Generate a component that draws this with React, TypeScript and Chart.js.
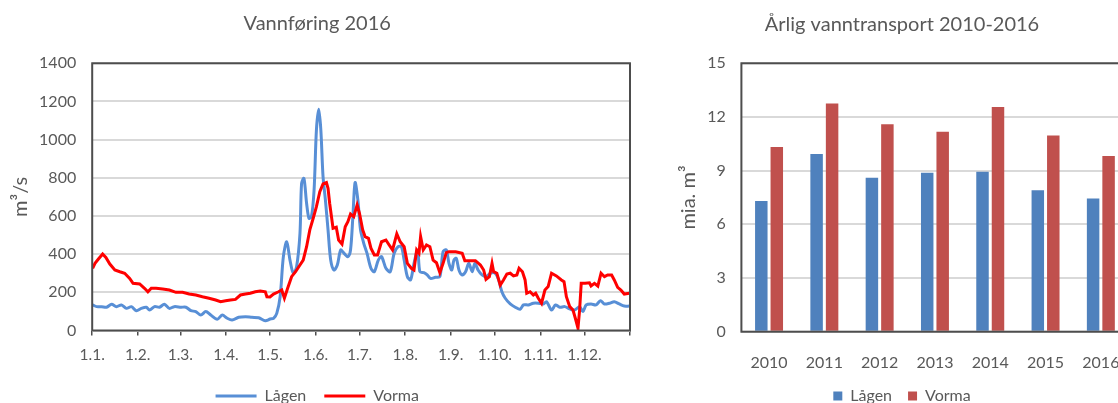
import React, { useEffect, useRef } from "react";
import { Chart, registerables } from "chart.js";

Chart.register(...registerables);

// ---------- Data: Vannføring 2016 (day of year -> m³/s) ----------
const monthStartDays = [0, 31, 60, 91, 121, 152, 182, 213, 244, 274, 305, 335, 366];
const monthLabels = ["1.1.", "1.2.", "1.3.", "1.4.", "1.5.", "1.6.", "1.7.", "1.8.", "1.9.", "1.10.", "1.11.", "1.12.", ""];

const lagenDays = [
  0.3, 3, 6.4, 9.8, 13.2, 16.5, 19.9, 23.3, 26.7, 30, 33.4, 36.8, 39, 42.4, 45.8, 49.1, 52.5, 55.9, 60.4, 63.8,
  67.2, 70.5, 73.9, 77.3, 80.7, 85.1, 88.5, 91.9, 95.2, 99.7, 104.3, 108.7, 113.3, 117.8, 121.1, 123.4, 125.6, 127.9, 130.1, 132.4,
  134.6, 136.9, 139.1, 141.4, 142.5, 144.1, 145.9, 147.5, 149.2, 151, 152.6, 154.2, 155.6, 157.1, 158.7, 160.5, 162.3, 164.5, 166.8, 169.1,
  171.3, 174, 175.8, 177.4, 178.9, 180.8, 182.6, 184.8, 187, 189.7, 192, 194.7, 196.9, 199.9, 202.8, 205.5, 208.2, 210.4, 212.3, 214.5,
  216.7, 219, 221.5, 223, 225.7, 228, 230.2, 233.6, 236.6, 238.8, 241, 242.8, 244.7, 246.2, 247.8, 249.6, 251.8, 254.1, 256.3, 258.6,
  260.4, 262.6, 265.3, 268, 271, 274.3, 276.6, 278.8, 281.1, 284.5, 287.9, 291.2, 293.5, 296.8, 300.2, 303.6, 307, 309.2, 312.6, 315.3,
  318.2, 321.6, 325, 328.3, 331.7, 333.9, 336.2, 339.5, 342.9, 345.9, 348.6, 352, 355.3, 358.7, 362.1, 365.5,
];
const lagenFlow = [
  134, 125, 125, 122, 137, 125, 134, 116, 125, 104, 116, 122, 107, 125, 122, 137, 116, 125, 122, 122,
  104, 99, 81, 99, 81, 59, 81, 64, 55, 69, 72, 69, 67, 51, 60, 64, 90, 177, 387, 465,
  369, 300, 334, 509, 771, 797, 667, 588, 596, 736, 1051, 1159, 1051, 806, 684, 527, 369, 317, 343, 422,
  405, 387, 422, 596, 775, 684, 527, 457, 405, 326, 308, 369, 387, 326, 308, 405, 439, 439, 369, 282,
  265, 352, 420, 308, 303, 291, 273, 279, 282, 413, 422, 352, 317, 369, 378, 317, 291, 308, 352, 308,
  352, 317, 291, 282, 300, 300, 265, 203, 169, 139, 122, 111, 134, 134, 143, 143, 139, 151, 107, 134,
  122, 125, 113, 107, 125, 99, 134, 139, 134, 156, 139, 143, 151, 139, 128, 128,
];

const vormaDays = [
  0.3, 1.9, 4.1, 7.1, 9.3, 12, 15.4, 18.8, 22.1, 25.5, 27.8, 32.3, 35.6, 37.9, 40.2, 43.5, 48, 52.5, 57, 61.5,
  66, 70.5, 75, 79.5, 84, 87.4, 90.8, 94.1, 97.5, 100.9, 104.3, 107.6, 111, 114.4, 117.8, 118.9, 121, 123.4, 126.8, 129,
  130.8, 133, 135.7, 138.4, 141.4, 143.6, 145.9, 148.1, 150.4, 152.6, 154.9, 157.1, 159.4, 160.5, 161.6, 163.9, 166.1, 167.7, 170, 172.2,
  174, 175.8, 178, 180.3, 181.9, 184.1, 185.7, 188, 189.7, 192, 194.2, 196.9, 199.9, 202.1, 204.4, 207.3, 209.6, 212.3, 214.5, 217.2,
  219, 220.8, 222.4, 223.5, 225.3, 227.5, 229.8, 232, 234.3, 236.6, 238.8, 241, 242.8, 247.4, 251.8, 253.6, 256.3, 260.8, 264.2, 266.4,
  268, 270.3, 272.1, 273.2, 275.4, 277.7, 279.9, 282.2, 284.5, 286.7, 289, 290.5, 292.8, 294.6, 295.7, 298, 300.2, 301.8, 303.6, 305.8,
  308.1, 310.3, 312.6, 315.9, 319.3, 321.1, 322.7, 325, 327.2, 328.8, 330.6, 331.7, 332.8, 335.5, 338.4, 339.5, 341.8, 344.1, 346.3, 348.6,
  350.8, 353.5, 355.3, 357.6, 359.8, 362.1, 365.5,
];
const vormaFlow = [
  326, 352, 373, 401, 383, 348, 317, 308, 300, 273, 247, 244, 221, 203, 221, 221, 217, 212, 200, 200,
  191, 186, 177, 169, 160, 151, 156, 160, 163, 186, 191, 195, 203, 207, 203, 177, 176, 191, 203, 212,
  169, 221, 282, 308, 343, 369, 439, 527, 588, 649, 727, 768, 775, 745, 667, 536, 541, 474, 453, 544,
  570, 610, 596, 658, 614, 527, 492, 483, 431, 396, 396, 465, 474, 448, 422, 506, 465, 439, 352, 326,
  317, 422, 405, 492, 422, 448, 439, 369, 355, 303, 352, 408, 413, 413, 405, 366, 366, 366, 343, 317,
  268, 282, 352, 308, 300, 238, 265, 296, 300, 286, 291, 326, 308, 265, 195, 203, 186, 195, 169, 143,
  212, 230, 300, 286, 265, 256, 177, 125, 107, 64, 12, 107, 247, 247, 250, 233, 247, 233, 300, 282,
  291, 291, 265, 226, 212, 191, 195,
];

// ---------- Data: Årlig vanntransport 2010-2016 (mia. m³) ----------
const years = ["2010", "2011", "2012", "2013", "2014", "2015", "2016"];
const lagenYearly = [7.3, 9.93, 8.61, 8.89, 8.94, 7.9, 7.45];
const vormaYearly = [10.32, 12.76, 11.59, 11.18, 12.56, 10.97, 9.82];

const FONT = "Lato, 'Open Sans', 'DejaVu Sans', sans-serif";
const TEXT = "#595959";
const GRID = "#d9d9d9";
const FRAME = "#4d4d4d";

Chart.defaults.font.family = FONT;
Chart.defaults.color = TEXT;

const plotBox = {
  id: "plotBox",
  afterDatasetsDraw(chart: any) {
    const { ctx, chartArea } = chart;
    ctx.save();
    ctx.strokeStyle = FRAME;
    ctx.lineWidth = 2;
    ctx.strokeRect(chartArea.left, chartArea.top, chartArea.right - chartArea.left, chartArea.bottom - chartArea.top);
    ctx.restore();
  },
};

function FlowChart() {
  const ref = useRef<HTMLCanvasElement | null>(null);
  useEffect(() => {
    if (!ref.current) return;
    const chart = new Chart(ref.current, {
      type: "line",
      data: {
        datasets: [
          {
            label: "Lågen",
            data: lagenDays.map((d, i) => ({ x: d, y: lagenFlow[i] })),
            borderColor: "#588fd6",
            backgroundColor: "#588fd6",
            borderWidth: 3,
            pointRadius: 0,
            tension: 0.3,
            order: 1,
          },
          {
            label: "Vorma",
            data: vormaDays.map((d, i) => ({ x: d, y: vormaFlow[i] })),
            borderColor: "#ff0000",
            backgroundColor: "#ff0000",
            borderWidth: 3,
            pointRadius: 0,
            tension: 0,
            order: 0,
          },
        ],
      },
      options: {
        animation: false,
        responsive: false,
        devicePixelRatio: 1,
        layout: { padding: { left: 0, right: 5.5, top: 0, bottom: 0 } },
        plugins: {
          title: {
            display: true,
            text: "Vannføring 2016",
            color: TEXT,
            font: { size: 20, weight: "normal" },
            padding: { top: 11.7, bottom: 27.6 },
          },
          legend: {
            position: "bottom",
            labels: {
              usePointStyle: true,
              pointStyle: "line",
              pointStyleWidth: 41,
              font: { size: 16 },
              color: TEXT,
              padding: 18,
              sort: (a: any, b: any) => a.datasetIndex - b.datasetIndex,
            },
          },
          tooltip: { enabled: false },
        },
        scales: {
          x: {
            type: "linear",
            min: 0,
            max: 366,
            afterBuildTicks: (s: any) => {
              s.ticks = monthStartDays.map((v) => ({ value: v }));
            },
            afterFit: (s: any) => {
              s.height = 39.5;
            },
            ticks: {
              autoSkip: false,
              maxRotation: 0,
              padding: 10,
              font: { size: 15.5 },
              color: TEXT,
              callback: (v: any) => {
                const i = monthStartDays.indexOf(Number(v));
                return i >= 0 ? monthLabels[i] : "";
              },
            },
            grid: { drawOnChartArea: false, drawTicks: true, tickLength: 5, color: FRAME, lineWidth: 1.5 },
            border: { display: false },
          },
          y: {
            min: 0,
            max: 1400,
            afterFit: (s: any) => {
              s.width = 92.2;
            },
            ticks: {
              stepSize: 200,
              padding: 16,
              font: { size: 16 },
              color: TEXT,
              callback: (v: any) => String(v),
            },
            grid: { color: GRID, lineWidth: 2, drawTicks: false },
            border: { display: false },
            title: {
              display: true,
              text: "m³/s",
              color: TEXT,
              font: { size: 20 },
              padding: { top: 8.5, bottom: 0 },
            },
          },
        },
      },
      plugins: [plotBox],
    } as any);
    return () => chart.destroy();
  }, []);
  return (
    <canvas
      ref={ref}
      width={640}
      height={414}
      style={{ position: "absolute", left: 0, top: 0, width: 640, height: 414 }}
    />
  );
}

function TransportChart() {
  const ref = useRef<HTMLCanvasElement | null>(null);
  useEffect(() => {
    if (!ref.current) return;
    const chart = new Chart(ref.current, {
      type: "bar",
      data: {
        labels: years,
        datasets: [
          {
            label: "Lågen",
            data: lagenYearly,
            backgroundColor: "#4f81bd",
            categoryPercentage: 0.56,
            barPercentage: 0.806,
          },
          {
            label: "Vorma",
            data: vormaYearly,
            backgroundColor: "#c0504d",
            categoryPercentage: 0.56,
            barPercentage: 0.806,
          },
        ],
      },
      options: {
        animation: false,
        responsive: false,
        devicePixelRatio: 1,
        layout: { padding: 0 },
        plugins: {
          title: {
            display: true,
            text: "Årlig vanntransport 2010-2016",
            color: TEXT,
            font: { size: 20, weight: "normal" },
            padding: { top: 13, bottom: 26.3 },
          },
          legend: {
            position: "bottom",
            labels: {
              boxWidth: 9,
              boxHeight: 9,
              font: { size: 16 },
              color: TEXT,
              padding: 16,
            },
          },
          tooltip: { enabled: false },
        },
        scales: {
          x: {
            afterFit: (s: any) => {
              s.height = 40.3;
            },
            ticks: { padding: 14, font: { size: 16 }, color: TEXT, maxRotation: 0, autoSkip: false },
            grid: { display: false },
            border: { display: false },
          },
          y: {
            min: 0,
            max: 15,
            afterFit: (s: any) => {
              s.width = 91.4;
            },
            ticks: { stepSize: 3, padding: 15.5, font: { size: 16 }, color: TEXT },
            grid: { color: GRID, lineWidth: 2, drawTicks: false },
            border: { display: false },
            title: {
              display: true,
              text: "mia. m³",
              color: TEXT,
              font: { size: 20 },
              padding: { top: 26.3, bottom: 0 },
            },
          },
          spacer: {
            type: "linear",
            position: "right",
            display: true,
            afterFit: (s: any) => {
              s.width = 25.5;
            },
            ticks: { display: false },
            grid: { display: false },
            border: { display: false },
          },
        },
      },
      plugins: [plotBox],
    } as any);
    return () => chart.destroy();
  }, []);
  return (
    <canvas
      ref={ref}
      width={504}
      height={414}
      style={{ position: "absolute", left: 650, top: 0, width: 504, height: 414 }}
    />
  );
}

export default function App() {
  return (
    <div
      style={{
        position: "fixed",
        left: 0,
        top: 0,
        width: 1118,
        height: 403,
        overflow: "hidden",
        background: "#ffffff",
      }}
    >
      <FlowChart />
      <TransportChart />
    </div>
  );
}
